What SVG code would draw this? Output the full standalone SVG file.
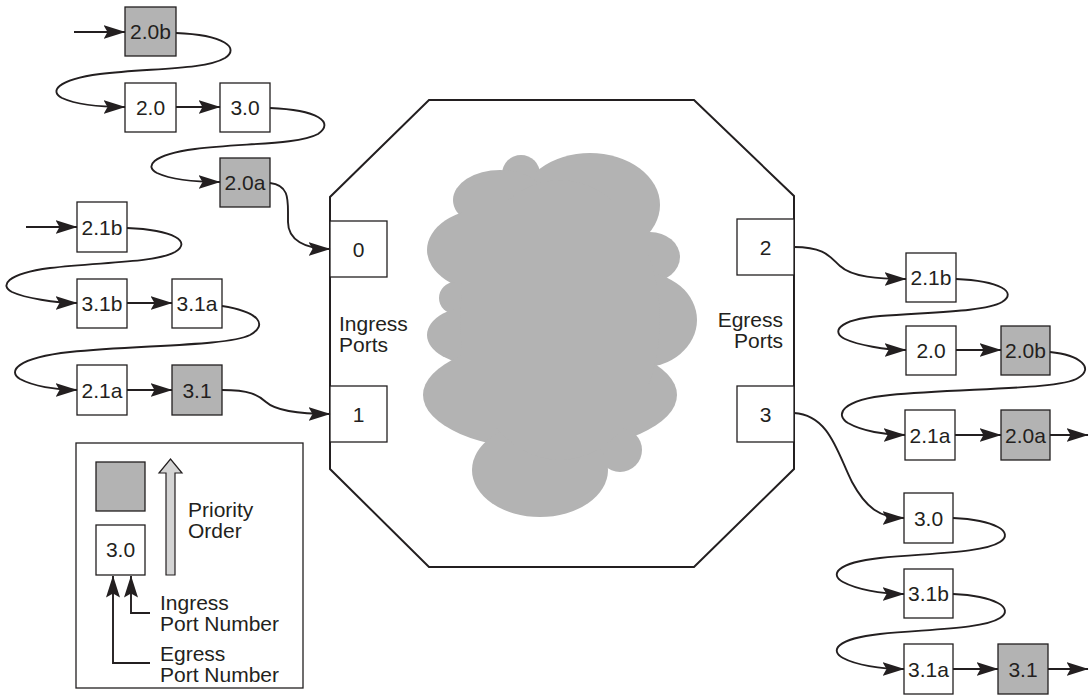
<svg xmlns="http://www.w3.org/2000/svg" width="1090" height="698" viewBox="0 0 1090 698">
<style>
.box{fill:#fff;stroke:#231f20;stroke-width:1.3}
.gray{fill:#b3b3b3;stroke:#231f20;stroke-width:1.3}
.lbl{font-family:"Liberation Sans",Arial,sans-serif;font-size:21px;fill:#231f20;text-anchor:middle}
.txt{font-family:"Liberation Sans",Arial,sans-serif;font-size:21px;fill:#231f20}
.con{fill:none;stroke:#231f20;stroke-width:1.9;marker-end:url(#ah)}
.cloud ellipse,.cloud circle,.cloud rect{fill:#b3b3b3}
</style>
<defs>
<marker id="ah" viewBox="0 0 22 14" refX="21.5" refY="7" markerWidth="22" markerHeight="14" markerUnits="userSpaceOnUse" orient="auto">
<path d="M0,0 L22,7 L0,14 L4,7 Z" fill="#231f20"/>
</marker>
</defs>
<rect width="1090" height="698" fill="#fff"/>

<g id="switch">
<polygon points="429,100 694,100 794,196 794,469 694,567 429,567 330,469 330,197" fill="#fff" stroke="#231f20" stroke-width="2"/>
<g class="cloud">
<circle cx="521" cy="174" r="19"/>
<ellipse cx="590" cy="205" rx="70" ry="52"/>
<ellipse cx="500" cy="200" rx="47" ry="30"/>
<ellipse cx="490" cy="250" rx="63" ry="42"/>
<circle cx="455" cy="298" r="16"/>
<ellipse cx="480" cy="335" rx="53" ry="30"/>
<ellipse cx="550" cy="395" rx="127" ry="55"/>
<circle cx="620" cy="450" r="22"/>
<ellipse cx="540" cy="470" rx="68" ry="47"/>
<ellipse cx="650" cy="257" rx="30" ry="25"/>
<ellipse cx="640" cy="320" rx="57" ry="48"/>
<ellipse cx="560" cy="320" rx="100" ry="140"/>
<rect x="462" y="200" width="186" height="228"/>
</g>
<text class="txt" x="339" y="331">Ingress</text>
<text class="txt" x="339" y="352">Ports</text>
<text class="txt" x="783" y="327" text-anchor="end">Egress</text>
<text class="txt" x="783" y="348" text-anchor="end">Ports</text>
</g>

<g id="port0"><rect class="box" x="330" y="221" width="57" height="56"/><text class="lbl" x="358.5" y="257">0</text></g>
<g id="port1"><rect class="box" x="330" y="386" width="57" height="56"/><text class="lbl" x="358.5" y="422">1</text></g>
<g id="port2"><rect class="box" x="737" y="219" width="57" height="56"/><text class="lbl" x="765.5" y="255">2</text></g>
<g id="port3"><rect class="box" x="737" y="386" width="57" height="56"/><text class="lbl" x="765.5" y="422">3</text></g>

<g id="in0-2.0b"><rect class="gray" x="125" y="7" width="51" height="49"/><text class="lbl" x="150.5" y="39">2.0b</text></g>
<g id="in0-2.0"><rect class="box" x="125" y="83" width="51" height="49"/><text class="lbl" x="150.5" y="115">2.0</text></g>
<g id="in0-3.0"><rect class="box" x="220" y="83" width="50" height="49"/><text class="lbl" x="245" y="115">3.0</text></g>
<g id="in0-2.0a"><rect class="gray" x="220" y="158" width="50" height="49"/><text class="lbl" x="245" y="190">2.0a</text></g>

<g id="in1-2.1b"><rect class="box" x="77" y="202" width="50" height="50"/><text class="lbl" x="102" y="234.5">2.1b</text></g>
<g id="in1-3.1b"><rect class="box" x="77" y="279" width="50" height="49"/><text class="lbl" x="102" y="311">3.1b</text></g>
<g id="in1-3.1a"><rect class="box" x="172" y="279" width="50" height="49"/><text class="lbl" x="197" y="311">3.1a</text></g>
<g id="in1-2.1a"><rect class="box" x="77" y="365" width="50" height="50"/><text class="lbl" x="102" y="397.5">2.1a</text></g>
<g id="in1-3.1"><rect class="gray" x="172" y="365" width="50" height="50"/><text class="lbl" x="197" y="397.5">3.1</text></g>

<g id="out2-2.1b"><rect class="box" x="906" y="253" width="50" height="49"/><text class="lbl" x="931" y="285">2.1b</text></g>
<g id="out2-2.0"><rect class="box" x="906" y="326" width="50" height="49"/><text class="lbl" x="931" y="358">2.0</text></g>
<g id="out2-2.0b"><rect class="gray" x="1001" y="326" width="49" height="49"/><text class="lbl" x="1025.5" y="358">2.0b</text></g>
<g id="out2-2.1a"><rect class="box" x="905" y="410" width="50" height="50"/><text class="lbl" x="930" y="442.5">2.1a</text></g>
<g id="out2-2.0a"><rect class="gray" x="1001" y="410" width="49" height="50"/><text class="lbl" x="1025.5" y="442.5">2.0a</text></g>

<g id="out3-3.0"><rect class="box" x="904" y="493" width="49" height="50"/><text class="lbl" x="928.5" y="525.5">3.0</text></g>
<g id="out3-3.1b"><rect class="box" x="904" y="569" width="49" height="49"/><text class="lbl" x="928.5" y="601">3.1b</text></g>
<g id="out3-3.1a"><rect class="box" x="904" y="644" width="49" height="50"/><text class="lbl" x="928.5" y="676.5">3.1a</text></g>
<g id="out3-3.1"><rect class="gray" x="998" y="644" width="50" height="50"/><text class="lbl" x="1023" y="676.5">3.1</text></g>

<g id="legend">
<rect x="76" y="443" width="227" height="245" fill="#fff" stroke="#231f20" stroke-width="1.3"/>
<rect class="gray" x="96" y="462" width="49" height="49"/>
<rect class="box" x="96" y="525" width="49" height="50"/>
<text class="lbl" x="120.5" y="557">3.0</text>
<polygon points="166,575 175,575 175,473 182,473 170.5,459 159,473 166,473" fill="#d4d4d4" stroke="#231f20" stroke-width="1.2"/>
<text class="txt" x="188" y="517">Priority</text>
<text class="txt" x="188" y="538">Order</text>
<path class="con" d="M150,613 L131,613 L131,576"/>
<path class="con" d="M150,663 L113,663 L113,576"/>
<text class="txt" x="160" y="610">Ingress</text>
<text class="txt" x="160" y="631">Port Number</text>
<text class="txt" x="160" y="661">Egress</text>
<text class="txt" x="160" y="682">Port Number</text>
</g>

<g id="connectors">
<path class="con" d="M74,32 L125,32"/>
<path class="con" d="M176,33 C225,35 240,48 225,58 C205,70 150,68 100,74 C55,80 50,92 62,98 C75,104 100,107 125,107"/>
<path class="con" d="M176,107 L220,107"/>
<path class="con" d="M270,108 C318,110 335,122 318,134 C298,145 240,143 195,149 C150,155 145,167 157,173 C170,179 195,182 220,182"/>
<path class="con" d="M270,183 C288,185 288,198 288,212 L288,222 C288,240 305,249 330,249"/>

<path class="con" d="M26,227 L77,227"/>
<path class="con" d="M127,228 C175,230 192,242 175,252 C155,263 100,262 50,268 C5,274 0,286 12,292 C25,298 55,303 77,303"/>
<path class="con" d="M127,303 L172,303"/>
<path class="con" d="M222,306 C260,312 268,325 250,335 C228,346 140,345 70,352 C15,358 8,372 20,379 C33,386 55,390 77,390"/>
<path class="con" d="M127,390 L172,390"/>
<path class="con" d="M222,390 C250,390 258,395 266,402 C276,411 300,414 330,414"/>

<path class="con" d="M794,247 C825,247 830,257 840,266 C852,277 878,279 906,279"/>
<path class="con" d="M956,279 C1000,281 1018,292 1002,302 C985,312 930,312 880,316 C835,320 832,333 845,339 C858,345 885,350 906,350"/>
<path class="con" d="M956,350 L1001,350"/>
<path class="con" d="M1050,352 C1080,355 1095,368 1078,378 C1060,390 960,388 890,395 C840,400 835,415 848,423 C862,431 885,435 905,435"/>
<path class="con" d="M955,435 L1001,435"/>
<path class="con" d="M1050,435 L1088,435"/>

<path class="con" d="M794,413 C830,415 838,455 852,482 C866,508 880,518 904,518"/>
<path class="con" d="M953,518 C995,520 1015,532 1000,542 C983,553 930,553 880,558 C835,563 830,575 843,582 C856,589 880,594 904,594"/>
<path class="con" d="M953,594 C995,596 1015,608 1000,618 C983,629 930,629 880,634 C835,639 830,651 843,658 C856,665 880,669 904,669"/>
<path class="con" d="M953,669 L998,669"/>
<path class="con" d="M1048,669 L1088,669"/>
</g>
</svg>
